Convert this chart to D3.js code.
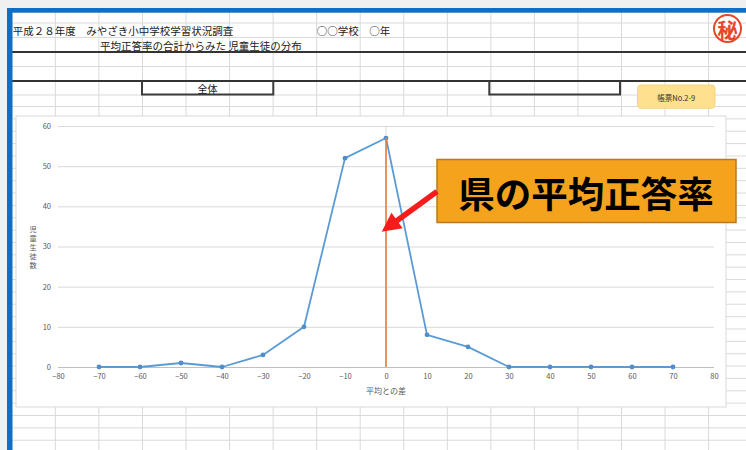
<!DOCTYPE html>
<html>
<head>
<meta charset="utf-8">
<script src="https://cdn.jsdelivr.net/npm/d3@7"></script>
<style>
  body { margin: 0; background: #f0f0f0; }
  svg { display: block; font-family: "Noto Sans CJK JP", "Noto Sans", sans-serif; }
</style>
</head>
<body>
<svg id="sheet" width="746" height="450"></svg>
<script>
// Distribution of students by difference from the prefecture average score
const diffs  = [-70, -60, -50, -40, -30, -20, -10, 0, 10, 20, 30, 40, 50, 60, 70];
const counts = [0, 0, 1, 0, 3, 10, 52, 57, 8, 5, 0, 0, 0, 0, 0];
const xTicks = [-80, -70, -60, -50, -40, -30, -20, -10, 0, 10, 20, 30, 40, 50, 60, 70, 80];
const yTicks = [0, 10, 20, 30, 40, 50, 60];
const meanDiff = 0;
const meanLineCounts = [0, 57];

const headerTitle = "平成２８年度　みやざき小中学校学習状況調査";
const headerSchool = "○○学校　○年";
const headerSub = "平均正答率の合計からみた 児童生徒の分布";
const groupLabel = "全体";
const formLabel = "帳票No.2-9";
const yTitle = "児童生徒数";
const xTitle = "平均との差";
const calloutText = "県の平均正答率";
const stampText = "秘";

const svg = d3.select("#sheet");
const W = 746, H = 450;

// ---- worksheet background ----
svg.append("rect").attr("x", 12).attr("y", 12).attr("width", W - 12).attr("height", H - 12).attr("fill", "#fff");

const gridColor = "#dadada";
const colLines = d3.range(1, 17).map(k => 11.8 + 43.55 * k);
const rowLines = [23, 37.5, 52, 66.5, 81, 95, 106.5].concat(d3.range(1, 29).map(k => 106.5 + 12.36 * k));
const grid = svg.append("g");
grid.selectAll("line.c").data(colLines).join("line")
  .attr("x1", d => d).attr("x2", d => d).attr("y1", 12).attr("y2", H)
  .attr("stroke", gridColor).attr("stroke-width", 1);
grid.selectAll("line.r").data(rowLines).join("line")
  .attr("x1", 12).attr("x2", W).attr("y1", d => d).attr("y2", d => d)
  .attr("stroke", gridColor).attr("stroke-width", 1);

// thick separators
[52, 81].forEach(y => {
  svg.append("line").attr("x1", 12).attr("x2", W).attr("y1", y).attr("y2", y)
    .attr("stroke", "#333").attr("stroke-width", 1.8);
});

// header text
const head = svg.append("g").attr("fill", "#1a1a1a").attr("font-size", 10.5).attr("dominant-baseline", "central");
head.append("text").attr("x", 12.7).attr("y", 30.5).text(headerTitle);
head.append("text").attr("x", 316.7).attr("y", 30.5).text(headerSchool);
head.append("text").attr("x", 100).attr("y", 45).text(headerSub);

// open-top boxes under the second separator
[[142, 273.3], [489.3, 620]].forEach(([a, b]) => {
  svg.append("path").attr("d", `M${a},81 V94.5 H${b} V81`)
    .attr("fill", "none").attr("stroke", "#3c3c3c").attr("stroke-width", 2);
});
svg.append("text").attr("x", 207.6).attr("y", 88).attr("text-anchor", "middle")
  .attr("dominant-baseline", "central").attr("font-size", 10).attr("fill", "#1a1a1a").text(groupLabel);

// form number tag
svg.append("rect").attr("x", 637.5).attr("y", 85).attr("width", 77.5).attr("height", 23.3).attr("rx", 3.5)
  .attr("fill", "#ffe08e").attr("stroke", "#f6d57c").attr("stroke-width", 1);
svg.append("text").attr("x", 676.3).attr("y", 97).attr("text-anchor", "middle")
  .attr("dominant-baseline", "central").attr("font-size", 7.5).attr("fill", "#333").text(formLabel);

// confidential stamp
svg.append("circle").attr("cx", 727.5).attr("cy", 28.5).attr("r", 13.5)
  .attr("fill", "#fff").attr("stroke", "#e8462a").attr("stroke-width", 2);
svg.append("text").attr("x", 727.5).attr("y", 29).attr("text-anchor", "middle")
  .attr("dominant-baseline", "central").attr("font-size", 20).attr("font-weight", "bold")
  .attr("fill", "#e8462a").text(stampText);

// blue window frame
svg.append("rect").attr("x", 7).attr("y", 8).attr("width", W - 7).attr("height", 4.7).attr("fill", "#0f6fc4");
svg.append("rect").attr("x", 7).attr("y", 8).attr("width", 5.5).attr("height", H - 8).attr("fill", "#0f6fc4");

// ---- chart ----
svg.append("rect").attr("x", 16).attr("y", 116).attr("width", 710).attr("height", 291)
  .attr("fill", "#fff").attr("stroke", "#d9d9d9").attr("stroke-width", 1);

const x = d3.scaleLinear().domain([-80, 80]).range([58, 714]);
const y = d3.scaleLinear().domain([0, 60]).range([367, 126]);
const tickColor = "#595959";

// horizontal gridlines + y labels
const yAxis = svg.append("g").attr("transform", `translate(${x(-80)},0)`)
  .call(d3.axisLeft(y).tickValues(yTicks).tickSize(-(x(80) - x(-80))).tickPadding(7));
yAxis.select(".domain").remove();
yAxis.selectAll(".tick line").attr("stroke", d => d === 0 ? "#bfbfbf" : "#d9d9d9").attr("stroke-width", 1);
yAxis.selectAll(".tick text").attr("fill", tickColor).attr("font-size", 7.5)
  .attr("font-family", "\"Noto Sans CJK JP\", sans-serif");

// x labels
const xAxis = svg.append("g").attr("transform", `translate(0,${y(0)})`)
  .call(d3.axisBottom(x).tickValues(xTicks).tickSize(0).tickPadding(7));
xAxis.select(".domain").remove();
xAxis.selectAll(".tick text").attr("fill", tickColor).attr("font-size", 7.5)
  .attr("font-family", "\"Noto Sans CJK JP\", sans-serif");

// axis titles: y title is stacked vertically, one glyph per line
const step = 9;
Array.from(yTitle).forEach((ch, i, arr) => {
  svg.append("text").attr("x", 33)
    .attr("y", (y(0) + y(60)) / 2 + (i - (arr.length - 1) / 2) * step)
    .attr("text-anchor", "middle").attr("dominant-baseline", "central")
    .attr("fill", tickColor).attr("font-size", 7.2).text(ch);
});
svg.append("text").attr("x", x(0)).attr("y", 390.5).attr("text-anchor", "middle")
  .attr("dominant-baseline", "central").attr("font-size", 8).attr("fill", tickColor).text(xTitle);

// faint vertical reference at the average
svg.append("line").attr("x1", x(meanDiff)).attr("x2", x(meanDiff)).attr("y1", y(0)).attr("y2", y(60))
  .attr("stroke", "#d9d9d9").attr("stroke-width", 1);

// distribution line
const pts = diffs.map((d, i) => [d, counts[i]]);
svg.append("path").datum(pts)
  .attr("d", d3.line().x(d => x(d[0])).y(d => y(d[1])))
  .attr("fill", "none").attr("stroke", "#5b9bd5").attr("stroke-width", 1.8).attr("stroke-linejoin", "round");
svg.selectAll("circle.pt").data(pts).join("circle").attr("class", "pt")
  .attr("cx", d => x(d[0])).attr("cy", d => y(d[1])).attr("r", 2.4).attr("fill", "#4f8dcb");

// prefecture average line
svg.append("line").attr("x1", x(meanDiff)).attr("x2", x(meanDiff))
  .attr("y1", y(meanLineCounts[0])).attr("y2", y(meanLineCounts[1]))
  .attr("stroke", "#ed7d31").attr("stroke-width", 1.6);

// ---- callout ----
svg.append("rect").attr("x", 437).attr("y", 159.5).attr("width", 299).attr("height", 63)
  .attr("fill", "#f5a31d").attr("stroke", "#b97a1e").attr("stroke-width", 1.5);
svg.append("text").attr("x", 586).attr("y", 192).attr("text-anchor", "middle")
  .attr("dominant-baseline", "central").attr("font-size", 36.5).attr("font-weight", "bold")
  .attr("fill", "#000").text(calloutText);

// arrow pointing to the average line
const tail = [437, 191.5], tip = [381.7, 231.7];
const ang = Math.atan2(tip[1] - tail[1], tip[0] - tail[0]);
const headLen = 19, headHalf = 9.5;
const base = [tip[0] - headLen * Math.cos(ang), tip[1] - headLen * Math.sin(ang)];
const nx = -Math.sin(ang), ny = Math.cos(ang);
svg.append("line").attr("x1", tail[0]).attr("y1", tail[1]).attr("x2", base[0] + 2 * Math.cos(ang)).attr("y2", base[1] + 2 * Math.sin(ang))
  .attr("stroke", "#f71b1b").attr("stroke-width", 5.5);
svg.append("polygon")
  .attr("points", [tip, [base[0] + nx * headHalf, base[1] + ny * headHalf], [base[0] - nx * headHalf, base[1] - ny * headHalf]]
    .map(p => p.join(",")).join(" "))
  .attr("fill", "#f71b1b");
</script>
</body>
</html>
